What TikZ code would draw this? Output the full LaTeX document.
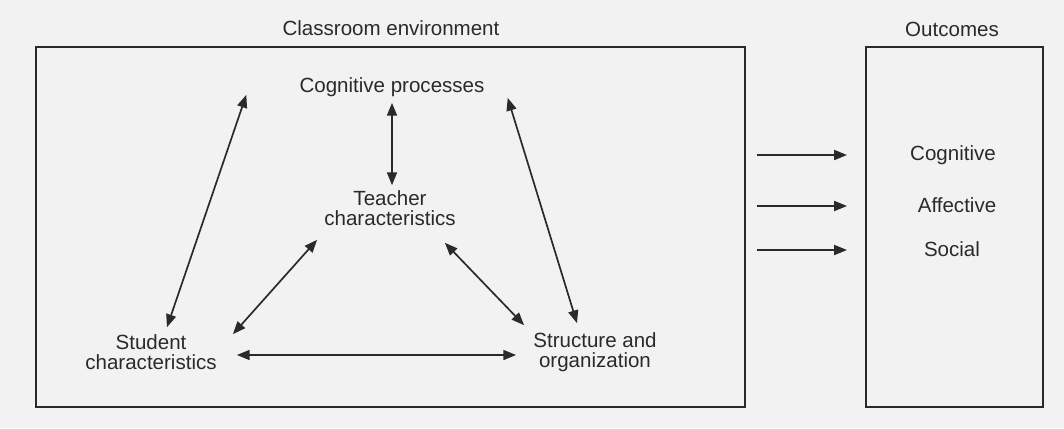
\documentclass[tikz,border=0pt]{standalone}
\usepackage{fontspec}
\setmainfont{Liberation Sans}
\usetikzlibrary{arrows.meta}
\definecolor{ink}{HTML}{2A2A2A}
\definecolor{paper}{HTML}{F2F2F2}
\tikzset{
  label/.style={inner sep=0pt, align=center, text=ink, font=\fontsize{14.6}{14.2}\selectfont},
  frame/.style={draw=ink, line width=1.5pt},
  link/.style={draw=ink, line width=1.2pt, {Triangle[length=3.2mm,width=2.5mm]}-{Triangle[length=3.2mm,width=2.5mm]}},
  feed/.style={draw=ink, line width=1.2pt, -{Triangle[length=3.2mm,width=2.5mm]}}
}
\begin{document}
\begin{tikzpicture}[x=0.025cm, y=-0.025cm]
% Page size (pixels of the reference)
\fill[paper] (0,0) rectangle (1064,428);
\useasboundingbox (0,0) rectangle (1064,428);

% Titles and frames
\node[label] (envtitle) at (391,28) {Classroom environment};
\node[label] (outtitle) at (952,29) {Outcomes};
\draw[frame] (36,47) rectangle (745,407);
\draw[frame] (866,47) rectangle (1043,407);

% Classroom factors
\node[label] (cogproc) at (392,87) {Cognitive processes};
\node[label] (teacher) at (390,208) {Teacher\\characteristics};
\node[label] (student) at (151,352) {Student\\characteristics};
\node[label] (structure) at (595,352) {Structure and\\organization};

% Links between the factors
\draw[link] ([shift={(0,6)}]cogproc.south) -- ([shift={(2,-5)}]teacher.north);
\draw[link] ([shift={(-53,-2)}]cogproc.south west) -- ([shift={(16,-7)}]student.north);
\draw[link] ([shift={(23,1)}]cogproc.south east) -- ([shift={(-18,-9)}]structure.north);
\draw[link] ([shift={(-7,14)}]teacher.south west) -- ([shift={(16,0)}]student.north east);
\draw[link] ([shift={(-11,17)}]teacher.south east) -- ([shift={(-9,-7)}]structure.north west);
\draw[link] ([shift={(20,3)}]student.east) -- ([shift={(-17,3)}]structure.west);

% Outcomes
\node[label] (cognitive) at (953,155) {Cognitive};
\node[label] (affective) at (957,205) {Affective};
\node[label] (social) at (952,249) {Social};
\coordinate (incog) at (757,155);
\coordinate (inaff) at (757,206);
\coordinate (insoc) at (757,250);
\draw[feed] (incog) -- (incog -| 847,0);
\draw[feed] (inaff) -- (inaff -| 847,0);
\draw[feed] (insoc) -- (insoc -| 847,0);
\end{tikzpicture}
\end{document}
